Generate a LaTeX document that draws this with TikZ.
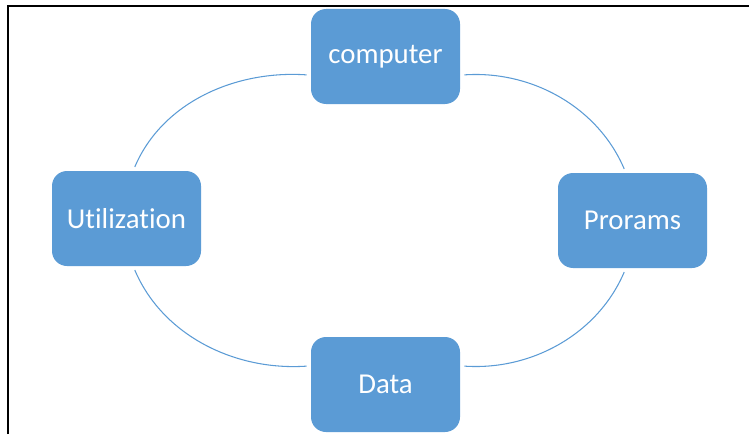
\documentclass[tikz,border=0pt]{standalone}
\usepackage{fontspec}
\setmainfont[Ligatures=NoCommon]{Carlito}
\usepackage{tikz}
\usepackage{xcolor}
\definecolor{boxblue}{HTML}{5B9BD5}

\begin{document}
\begin{tikzpicture}[
		stage/.style={fill=boxblue, draw=none, rounded corners=0.3cm,
			minimum width=2.98cm, minimum height=1.9cm,
			text=white, font=\fontsize{16.4pt}{20pt}\selectfont},
		cyc/.style={boxblue, line width=0.6pt, looseness=0.95,
			shorten <=2.3pt, shorten >=2.3pt}
	]
		\useasboundingbox (0,0) rectangle (14.98,8.68);

		% Frame
		\draw[line width=1.1pt] (0.154,0) -- (0.154,8.56) -- (14.98,8.56);

		% Boxes
		\node[stage] (computer) at (7.71,7.55) {computer};
		\node[stage] (util) at (2.53,4.31) {Utilization};
		\node[stage] (prog) at (12.65,4.27) {Prorams};
		\node[stage] (data) at (7.71,0.99) {Data};

		% Cycle arcs
		\draw[cyc] (computer.194) to[out=176, in=67] (util.82);
		\draw[cyc] (util.278) to[out=293, in=184] (data.166);
		\draw[cyc] (data.14) to[out=-4, in=247] (prog.262);
		\draw[cyc] (prog.98) to[out=113, in=4] (computer.-14);
	\end{tikzpicture}
\end{document}
